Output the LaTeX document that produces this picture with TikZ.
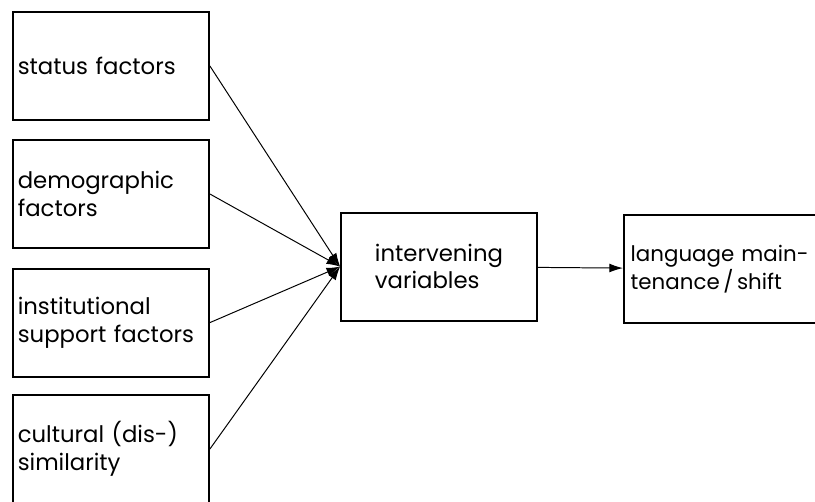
\documentclass[tikz,border=0pt]{standalone}
\usepackage{fontspec}
\setmainfont{Poppins}
\usetikzlibrary{arrows.meta}
\begin{document}
\begin{tikzpicture}[box/.style={draw,line width=1.3pt,minimum width=4.9cm,minimum height=2.7cm,inner sep=0.12cm,font=\fontsize{16.2}{19.5}\selectfont},factor/.style={box,text width=4.66cm,align=left},link/.style={line width=0.7pt,-{Latex[length=0.34cm,width=0.22cm]}}]
	\useasboundingbox (0,0) rectangle (20.375,12.525);

	\node[factor] at (2.775,10.875) (status) {status factors};
	\node[factor] at (2.775,7.675) (demo) {demographic\\factors};
	\node[factor] at (2.775,4.46) (inst) {institutional\\support factors};
	\node[factor] at (2.775,1.3) (cult) {cultural (dis-)\\similarity};

	\node[box,align=left] at (10.975,5.86) (inter) {intervening\\variables};
	\node[box,text width=5.2cm,align=left,inner xsep=0.17cm,anchor=west,font=\fontsize{15.2}{19.5}\selectfont] at (15.575,5.8) (shift) {language main-\\tenance\,/\,shift};

	\draw[link]	(status.east) -- (inter.west);
	\draw[link]	(demo.east) -- (inter.west);
	\draw[link]	(inst.east) -- (inter.west);
	\draw[link]	(cult.east) -- (inter.west);
	\draw[link]	(inter) -- (shift);
\end{tikzpicture}
\end{document}
